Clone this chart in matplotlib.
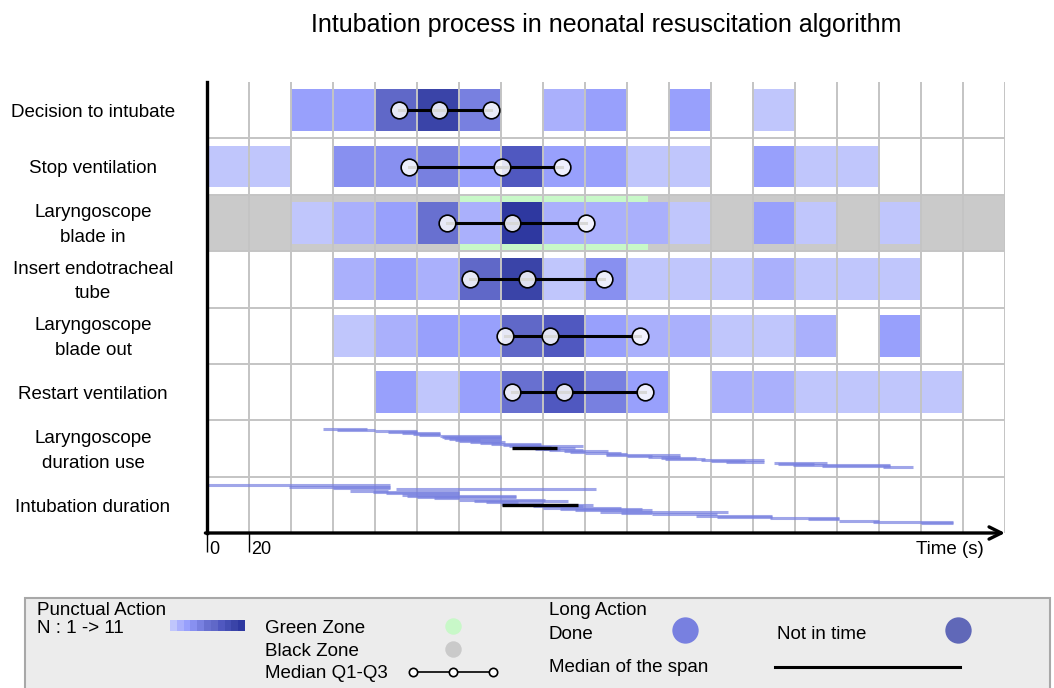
import numpy as np
import matplotlib.pyplot as plt
from matplotlib import transforms
from matplotlib.patches import Rectangle

plt.rcParams['font.family'] = ['Liberation Sans', 'DejaVu Sans']

TITLE = "Intubation process in neonatal resuscitation algorithm"
ROW_LABELS = [
    "Decision to intubate",
    "Stop ventilation",
    "Laryngoscope\nblade in",
    "Insert endotracheal\ntube",
    "Laryngoscope\nblade out",
    "Restart ventilation",
    "Laryngoscope\nduration use",
    "Intubation duration",
]

BIN_WIDTH = 20  # s
T_MAX = 380

# number of patients per 20 s bin (punctual actions)
decision = [0, 0, 3, 3, 7, 10, 5, 0, 2, 3, 0, 3, 0, 1, 0, 0, 0, 0, 0]
stop_vent = [1, 1, 0, 4, 4, 5, 3, 8, 3, 3, 1, 1, 0, 3, 1, 1, 0, 0, 0]
blade_in = [0, 0, 1, 2, 3, 6, 2, 11, 2, 2, 2, 1, 0, 3, 1, 0, 1, 0, 0]
insert_tube = [0, 0, 0, 2, 3, 2, 7, 10, 1, 4, 1, 1, 1, 2, 1, 1, 1, 0, 0]
blade_out = [0, 0, 0, 1, 2, 3, 3, 7, 8, 3, 2, 2, 1, 1, 2, 0, 3, 0, 0]
restart_vent = [0, 0, 0, 0, 3, 1, 3, 6, 8, 5, 3, 0, 2, 2, 1, 1, 1, 1, 0]
PUNCTUAL = [decision, stop_vent, blade_in, insert_tube, blade_out, restart_vent]

# Q1, median, Q3 (s)
QUARTILES = [
    (91.4, 110.3, 135.1),
    (96.3, 140.3, 168.9),
    (114.1, 145.1, 180.3),
    (125.2, 152.2, 189.0),
    (141.9, 163.3, 206.2),
    (145.4, 170.0, 208.7),
]

ZONE_ROW = 2
GREEN_ZONE = (120, 210)

# long actions: (start, end) in s
laryngo_start = [55, 62, 80, 86, 93, 98, 101, 111, 112, 113, 115, 118, 120, 125, 130, 135, 141, 144, 149,
                 152, 156, 160, 163, 170, 173, 180, 190, 190, 200, 210, 216, 218, 235, 240, 247, 270, 272,
                 279, 293, 322]
laryngo_end = [76, 80, 100, 100, 111, 111, 111, 140, 140, 140, 140, 130, 140, 142, 140, 159, 159, 179, 164,
               175, 164, 168, 179, 191, 180, 197, 200, 225, 212, 225, 233, 237, 265, 256, 265, 295, 289,
               325, 325, 336]
laryngo_median = (145, 166.5)

intub_start = [0, 39, 60, 90, 68, 79, 85, 93, 95, 100, 108, 120, 127, 133, 140, 150, 155, 160, 168, 175,
               187, 197, 212, 233, 243, 268, 286, 301, 317, 340]
intub_end = [87, 87, 87, 185, 86, 120, 120, 120, 147, 147, 120, 161, 172, 148, 160, 184, 179, 197, 207, 212,
             248, 212, 243, 269, 269, 301, 301, 320, 355, 355]
intub_median = (140.3, 176.8)

LONG_ACTIONS = [
    (6, laryngo_start, laryngo_end, laryngo_median),
    (7, intub_start, intub_end, intub_median),
]

PALETTE = ['#c0c6fc', '#aab0fc', '#98a0fc', '#8890f0', '#7880e0', '#6870d0',
           '#6068c8', '#5058c0', '#444eb4', '#3a44a8', '#2e38a0']
DONE_COLOR = '#7880e0'
LATE_COLOR = '#6068b8'
GREEN = '#c8f8c8'
GRAY = '#cacaca'
GRID = '#c4c4c4'
FONTSIZE = 13.5

W, H = 1054, 688
fig = plt.figure(figsize=(W / 100, H / 100), dpi=100)
ax = fig.add_axes([207 / W, 155 / H, 798 / W, 451 / H])
ax.set_xlim(0, T_MAX)
ax.set_ylim(8, 0)

# black / green zones
ax.bar(0, 1, width=T_MAX, bottom=ZONE_ROW, align='edge', color=GRAY, lw=0, zorder=1)
ax.bar(GREEN_ZONE[0], 1, width=GREEN_ZONE[1] - GREEN_ZONE[0], bottom=ZONE_ROW,
       align='edge', color=GREEN, lw=0, zorder=1.5)

# punctual action heat cells
for i, counts in enumerate(PUNCTUAL):
    counts = np.array(counts)
    starts = np.arange(len(counts)) * BIN_WIDTH
    mask = counts > 0
    ax.bar(starts[mask], 0.74, width=BIN_WIDTH, bottom=i + 0.13, align='edge',
           color=[PALETTE[c - 1] for c in counts[mask]], lw=0, zorder=2)

# grid
ax.vlines(np.arange(BIN_WIDTH, T_MAX + 1, BIN_WIDTH), 0, 8, color=GRID, lw=1.4, zorder=3)
ax.hlines(np.arange(1, 8), 0, T_MAX, color=GRID, lw=1.4, zorder=3)

# median and quartiles
for i, (q1, med, q3) in enumerate(QUARTILES):
    ax.plot([q1, med, q3], [i + 0.5] * 3, color='black', lw=2.2, marker='o', ms=12,
            mfc=(1, 1, 1, 0.85), mec='black', mew=1.2, zorder=5)

# long actions
for row, starts, ends, median in LONG_ACTIONS:
    ys = row + np.linspace(0.155, 0.83, len(starts))
    ax.hlines(ys, starts, ends, color=DONE_COLOR, lw=2.2, alpha=0.7, zorder=4)
    ax.hlines(row + 0.5, median[0], median[1], color='black', lw=2.4, zorder=5)

# axes
for side in ['top', 'right', 'bottom']:
    ax.spines[side].set_visible(False)
ax.spines['left'].set_linewidth(2.4)
ax.spines['left'].set_zorder(6)
ax.annotate('', xy=(1.0, 0), xytext=(-0.002, 0), xycoords='axes fraction',
            arrowprops=dict(arrowstyle='->', lw=2.4, color='black', mutation_scale=22,
                            shrinkA=0, shrinkB=0),
            annotation_clip=False)
ax.set_yticks([])
ax.set_xticks([0, 20])
ax.tick_params(axis='x', length=14, width=1, direction='out', labelbottom=False)

bt = transforms.blended_transform_factory(ax.transData, ax.transAxes)
for t in [0, 20]:
    ax.text(t + 1.2, -0.036, str(t), transform=bt, ha='left', va='center', fontsize=13)
ax.text(370, -0.036, "Time (s)", transform=bt, ha='right', va='center', fontsize=FONTSIZE)

lt = transforms.blended_transform_factory(fig.transFigure, ax.transData)
for i, label in enumerate(ROW_LABELS):
    ax.text(93 / W, i + 0.54, label, transform=lt, ha='center', va='center',
            fontsize=FONTSIZE, linespacing=1.6)

ax.set_title(TITLE, fontsize=18, pad=36)

# legend box
lax = fig.add_axes([0, 0, 1, 90 / H])
lax.set_xlim(0, W)
lax.set_ylim(H, H - 90)
lax.axis('off')
lax.add_patch(Rectangle((25, 598), 1025, 100, facecolor='#ececec', edgecolor='#a8a8a8',
                        lw=1.5, clip_on=False))
dy = 2.5
lax.text(37, 608 + dy, "Punctual Action", fontsize=FONTSIZE, va='center')
lax.text(37, 626 + dy, "N : 1 -> 11", fontsize=FONTSIZE, va='center')
step = 75 / len(PALETTE)
for k, c in enumerate(PALETTE):
    lax.add_patch(Rectangle((170 + k * step, 620), step, 11, color=c, lw=0))
lax.text(265, 626 + dy, "Green Zone", fontsize=FONTSIZE, va='center')
lax.scatter([453], [626], s=140, color=GREEN, lw=0)
lax.text(265, 649 + dy, "Black Zone", fontsize=FONTSIZE, va='center')
lax.scatter([453], [649], s=140, color=GRAY, lw=0)
lax.text(265, 671 + dy, "Median Q1-Q3", fontsize=FONTSIZE, va='center')
lax.plot([413, 453, 493], [672] * 3, color='black', lw=1.2, marker='o', ms=6,
         mfc='white', mec='black', mew=1.2)

lax.text(549, 608 + dy, "Long Action", fontsize=FONTSIZE, va='center')
lax.text(549, 632 + dy, "Done", fontsize=FONTSIZE, va='center')
lax.scatter([685], [630], s=360, color=DONE_COLOR, lw=0)
lax.text(777, 632 + dy, "Not in time", fontsize=FONTSIZE, va='center')
lax.scatter([958], [630], s=360, color=LATE_COLOR, lw=0)
lax.text(549, 665 + dy, "Median of the span", fontsize=FONTSIZE, va='center')
lax.plot([775, 960], [667, 667], color='black', lw=2.2)

fig.savefig('out.png', dpi=100)
